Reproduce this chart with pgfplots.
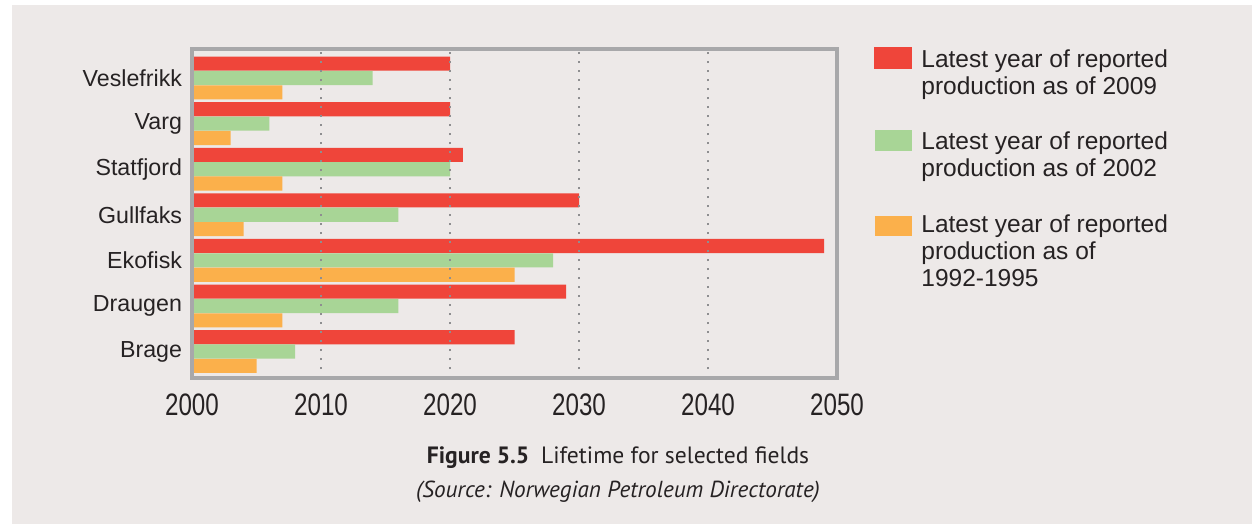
\documentclass[border=0pt]{standalone}
\usepackage{pgfplots}
\pgfplotsset{compat=1.18}
\usepackage{fontspec}
\setmainfont{Liberation Sans}
\newfontfamily\tickfont[FakeStretch=0.78]{Liberation Sans}
\newfontfamily\capfont{PT Sans}

\definecolor{panel}{HTML}{EDE9E8}
\definecolor{framegray}{HTML}{A8A8AA}
\definecolor{gridgray}{HTML}{8E8E90}
\definecolor{txt}{HTML}{262223}
\definecolor{cRed}{HTML}{EF453A}
\definecolor{cGreen}{HTML}{A8D596}
\definecolor{cOrange}{HTML}{FBB04B}

% y position: 0 = Brage ... 6 = Veslefrikk
\pgfplotstableread{
pos y2009 y2002 y1992
0 2025 2008 2005
1 2029 2016 2007
2 2049 2028 2025
3 2030 2016 2004
4 2021 2020 2007
5 2020 2006 2003
6 2020 2014 2007
}\lifetime

\begin{document}
\begin{tikzpicture}[x=0.5bp,y=-0.5bp]
\fill[white] (0,0) rectangle (1253,524);
\fill[panel] (12,5) rectangle (1252,524);

\begin{axis}[
  at={(96bp,-189bp)}, anchor=south west,
  width=322.5bp, height=164.5bp, scale only axis,
  xmin=2000, xmax=2050, ymin=-0.58, ymax=6.636,
  xbar, bar width=0.31,
  axis on top,
  axis line style={draw=framegray, line width=2bp},
  xmajorgrids, ymajorgrids=false,
  grid style={draw=gridgray, line width=1.1bp, dash pattern=on 1.1bp off 3.4bp},
  xtick={2000,2010,2020,2030,2040,2050},
  xticklabels={2000,2010,2020,2030,2040,2050},
  ytick={0,1,2,3,4,5,6},
  yticklabels={Brage,Draugen,Ekofisk,Gullfaks,Statfjord,Varg,Veslefrikk},
  major tick length=0pt,
  xticklabel style={font=\tickfont\fontsize{15.5bp}{18bp}\selectfont, text=txt, yshift=-4.5bp},
  yticklabel style={font=\fontsize{11.6bp}{14bp}\selectfont, text=txt, xshift=-1.5bp},
  clip=true,
]
\addplot[fill=cRed, draw=none, bar shift=0.315] table[x=y2009, y=pos] {\lifetime};
\addplot[fill=cGreen, draw=none, bar shift=0] table[x=y2002, y=pos] {\lifetime};
\addplot[fill=cOrange, draw=none, bar shift=-0.315] table[x=y1992, y=pos] {\lifetime};
\end{axis}

% legend
\fill[cRed] (874,47) rectangle (912,69);
\fill[cGreen] (875,130) rectangle (912,151);
\fill[cOrange] (875,216) rectangle (912,236);
\begin{scope}[every node/.style={anchor=base west, inner sep=0pt, text=txt, font=\fontsize{12.25bp}{13bp}\selectfont}]
\node at (921,68) {Latest year of reported};
\node at (921,94.5) {production as of 2009};
\node at (921,150) {Latest year of reported};
\node at (921,176.5) {production as of 2002};
\node at (921,232.5) {Latest year of reported};
\node at (921,259.5) {production as of};
\node at (921,286.5) {1992-1995};
\end{scope}

% caption
\node[anchor=base, inner sep=0pt, text=txt, font=\capfont\fontsize{11.8bp}{13bp}\selectfont] at (618,463)
  {\textbf{Figure 5.5}\hspace{0.5em}Lifetime for selected fields};
\node[anchor=base, inner sep=0pt, text=txt, font=\capfont\itshape\fontsize{11.6bp}{13bp}\selectfont] at (618,497)
  {(Source: Norwegian Petroleum Directorate)};
\end{tikzpicture}
\end{document}
